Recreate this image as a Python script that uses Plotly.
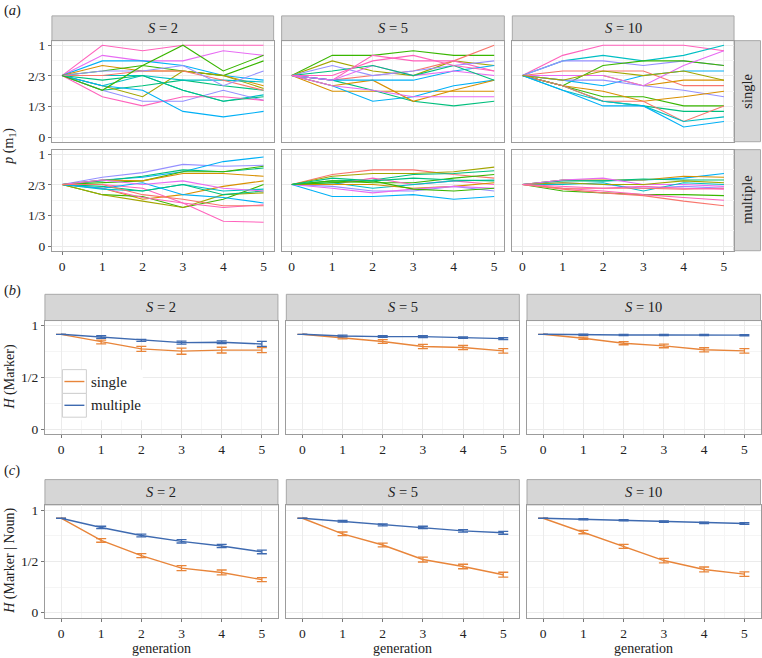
import plotly.graph_objects as go

W, H = 762, 658
FONT = "Liberation Serif, Times New Roman, Tinos, DejaVu Serif, serif"

generations = [0, 1, 2, 3, 4, 5]
strip_labels = ["<i>S</i> = 2", "<i>S</i> = 5", "<i>S</i> = 10"]
row_labels = ["single", "multiple"]
y_ticks_a = [0, 1/3, 2/3, 1]
y_ticktext_a = ["0", "1/3", "2/3", "1"]
y_ticks_bc = [0, 0.5, 1]
y_ticktext_bc = ["0", "1/2", "1"]

# ---------- panel (a): p(m1) per chain ----------
a_single_S2 = [
    [0.67, 1.00, 0.94, 1.00, 1.00, 1.00],
    [0.67, 0.89, 0.83, 0.83, 0.94, 0.89],
    [0.67, 0.83, 0.83, 0.78, 0.67, 0.62],
    [0.67, 0.78, 0.72, 0.72, 0.67, 0.56],
    [0.67, 0.72, 0.78, 0.72, 0.67, 0.83],
    [0.67, 0.51, 0.56, 0.62, 0.56, 0.51],
    [0.67, 0.56, 0.44, 0.72, 0.67, 0.53],
    [0.67, 0.56, 0.67, 0.51, 0.39, 0.46],
    [0.67, 0.67, 0.67, 0.62, 0.62, 0.60],
    [0.67, 0.51, 0.39, 0.39, 0.51, 0.40],
    [0.67, 0.44, 0.34, 0.44, 0.44, 0.40],
    [0.67, 0.56, 0.51, 0.28, 0.22, 0.28],
    [0.67, 0.62, 0.67, 0.51, 0.39, 0.44],
    [0.67, 0.67, 0.72, 0.72, 0.62, 0.51],
    [0.67, 0.72, 0.72, 0.78, 0.56, 0.72],
    [0.67, 0.51, 0.78, 1.00, 0.72, 0.89],
]
a_single_S2_col = [9, 8, 6, 1, 3, 4, 2, 5, 5, 7, 9, 6, 4, 0, 7, 3]

a_single_S5 = [
    [0.67, 0.89, 0.89, 0.94, 0.89, 0.89],
    [0.67, 0.83, 0.72, 0.67, 0.83, 0.78],
    [0.67, 0.50, 0.50, 0.50, 0.50, 0.50],
    [0.67, 0.62, 0.67, 0.72, 0.83, 1.00],
    [0.67, 0.62, 0.89, 0.83, 0.83, 0.72],
    [0.67, 0.56, 0.39, 0.44, 0.56, 0.62],
    [0.67, 0.62, 0.51, 0.39, 0.34, 0.39],
    [0.67, 0.56, 0.62, 0.39, 0.51, 0.62],
    [0.67, 0.78, 0.67, 0.72, 0.78, 0.83],
    [0.67, 0.62, 0.62, 0.62, 0.72, 0.78],
    [0.67, 0.62, 0.78, 0.67, 0.72, 0.67],
    [0.67, 0.72, 0.78, 0.67, 0.78, 0.62],
    [0.67, 0.56, 0.51, 0.44, 0.44, 0.44],
    [0.67, 0.67, 0.83, 0.89, 0.78, 0.72],
]
a_single_S5_col = [3, 2, 1, 0, 9, 6, 4, 1, 7, 6, 8, 4, 8, 9]

a_single_S10 = [
    [0.67, 0.89, 1.00, 1.00, 1.00, 0.94],
    [0.67, 0.83, 0.89, 0.83, 0.89, 1.00],
    [0.67, 0.83, 0.83, 0.78, 0.83, 0.78],
    [0.67, 0.56, 0.78, 0.83, 0.83, 0.78],
    [0.67, 0.72, 0.72, 0.72, 0.56, 0.56],
    [0.67, 0.67, 0.67, 0.56, 0.62, 0.62],
    [0.67, 0.62, 0.56, 0.67, 0.72, 0.72],
    [0.67, 0.62, 0.62, 0.56, 0.51, 0.44],
    [0.67, 0.56, 0.44, 0.44, 0.34, 0.34],
    [0.67, 0.56, 0.50, 0.39, 0.44, 0.50],
    [0.67, 0.56, 0.39, 0.34, 0.28, 0.28],
    [0.67, 0.56, 0.39, 0.39, 0.17, 0.34],
    [0.67, 0.51, 0.39, 0.34, 0.17, 0.22],
    [0.67, 0.51, 0.34, 0.34, 0.11, 0.17],
    [0.67, 0.67, 0.67, 0.56, 0.78, 0.94],
    [0.67, 0.62, 0.72, 0.67, 0.72, 0.62],
]
a_single_S10_col = [9, 5, 7, 3, 0, 1, 6, 7, 3, 1, 4, 0, 5, 6, 8, 2]

a_multiple_S2 = [
    [0.67, 0.75, 0.80, 0.89, 0.87, 0.88],
    [0.67, 0.72, 0.75, 0.81, 0.92, 0.97],
    [0.67, 0.71, 0.76, 0.83, 0.81, 0.85],
    [0.67, 0.69, 0.71, 0.81, 0.81, 0.87],
    [0.67, 0.72, 0.71, 0.79, 0.79, 0.76],
    [0.67, 0.63, 0.51, 0.56, 0.65, 0.71],
    [0.67, 0.56, 0.54, 0.42, 0.51, 0.67],
    [0.67, 0.56, 0.49, 0.42, 0.56, 0.58],
    [0.67, 0.67, 0.63, 0.47, 0.27, 0.26],
    [0.67, 0.63, 0.53, 0.47, 0.42, 0.45],
    [0.67, 0.62, 0.60, 0.67, 0.60, 0.62],
    [0.67, 0.65, 0.60, 0.67, 0.56, 0.60],
    [0.67, 0.63, 0.69, 0.56, 0.53, 0.47],
    [0.67, 0.72, 0.67, 0.71, 0.63, 0.60],
    [0.67, 0.67, 0.56, 0.51, 0.44, 0.44],
]
a_multiple_S2_col = [7, 6, 4, 3, 1, 1, 3, 2, 9, 9, 5, 4, 6, 8, 0]

a_multiple_S5 = [
    [0.67, 0.78, 0.83, 0.83, 0.78, 0.74],
    [0.67, 0.76, 0.79, 0.79, 0.81, 0.86],
    [0.67, 0.71, 0.72, 0.78, 0.79, 0.82],
    [0.67, 0.71, 0.69, 0.69, 0.74, 0.78],
    [0.67, 0.54, 0.54, 0.56, 0.51, 0.54],
    [0.67, 0.65, 0.60, 0.60, 0.65, 0.60],
    [0.67, 0.67, 0.74, 0.67, 0.71, 0.67],
    [0.67, 0.69, 0.63, 0.67, 0.71, 0.72],
    [0.67, 0.67, 0.67, 0.63, 0.65, 0.69],
    [0.67, 0.63, 0.58, 0.62, 0.65, 0.63],
    [0.67, 0.69, 0.71, 0.62, 0.60, 0.63],
    [0.67, 0.74, 0.71, 0.74, 0.72, 0.71],
]
a_multiple_S5_col = [0, 2, 4, 3, 6, 7, 9, 5, 1, 8, 3, 4]

a_multiple_S10 = [
    [0.67, 0.72, 0.71, 0.72, 0.74, 0.79],
    [0.67, 0.72, 0.72, 0.72, 0.76, 0.75],
    [0.67, 0.71, 0.71, 0.73, 0.72, 0.72],
    [0.67, 0.60, 0.58, 0.56, 0.56, 0.55],
    [0.67, 0.63, 0.60, 0.56, 0.53, 0.50],
    [0.67, 0.62, 0.58, 0.55, 0.49, 0.44],
    [0.67, 0.69, 0.67, 0.63, 0.65, 0.63],
    [0.67, 0.72, 0.74, 0.67, 0.67, 0.65],
    [0.67, 0.67, 0.69, 0.60, 0.69, 0.67],
    [0.67, 0.69, 0.67, 0.67, 0.71, 0.69],
    [0.67, 0.63, 0.63, 0.63, 0.62, 0.63],
    [0.67, 0.65, 0.63, 0.65, 0.63, 0.62],
]
a_multiple_S10_col = [6, 1, 4, 3, 9, 0, 7, 8, 5, 2, 0, 9]

# ---------- panel (b): H(Marker) ----------
b_single = {
    "S2": [0.917, 0.843, 0.776, 0.754, 0.764, 0.764],
    "S5": [0.917, 0.885, 0.847, 0.799, 0.789, 0.757],
    "S10": [0.917, 0.879, 0.831, 0.805, 0.767, 0.757],
}
b_single_err = {
    "S2": [None, 0.018, 0.024, 0.030, 0.028, 0.025],
    "S5": [None, 0.012, 0.018, 0.020, 0.020, 0.022],
    "S10": [None, 0.010, 0.015, 0.018, 0.020, 0.022],
}
b_multiple = {
    "S2": [0.917, 0.891, 0.859, 0.837, 0.840, 0.824],
    "S5": [0.917, 0.901, 0.895, 0.895, 0.885, 0.875],
    "S10": [0.917, 0.912, 0.911, 0.911, 0.910, 0.909],
}
b_multiple_err = {
    "S2": [None, 0.012, 0.010, 0.014, 0.014, 0.024],
    "S5": [None, 0.008, 0.008, 0.009, 0.008, 0.009],
    "S10": [None, 0.006, 0.006, 0.006, 0.006, 0.006],
}

# ---------- panel (c): H(Marker | Noun) ----------
c_single = {
    "S2": [0.920, 0.704, 0.556, 0.434, 0.392, 0.322],
    "S5": [0.920, 0.768, 0.659, 0.518, 0.450, 0.370],
    "S10": [0.920, 0.785, 0.646, 0.508, 0.421, 0.376],
}
c_single_err = {
    "S2": [None, 0.018, 0.020, 0.024, 0.024, 0.020],
    "S5": [None, 0.018, 0.018, 0.024, 0.022, 0.024],
    "S10": [None, 0.016, 0.020, 0.022, 0.024, 0.022],
}
c_multiple = {
    "S2": [0.920, 0.830, 0.752, 0.695, 0.650, 0.592],
    "S5": [0.920, 0.891, 0.855, 0.830, 0.797, 0.778],
    "S10": [0.920, 0.910, 0.900, 0.887, 0.875, 0.868],
}
c_multiple_err = {
    "S2": [None, 0.012, 0.014, 0.016, 0.016, 0.018],
    "S5": [None, 0.008, 0.010, 0.012, 0.012, 0.014],
    "S10": [None, 0.006, 0.006, 0.006, 0.008, 0.008],
}

# ---------- styles ----------
hue10 = ["#F8766D", "#D89000", "#A3A500", "#39B600", "#00BF7D",
         "#00BFC4", "#00B0F6", "#9590FF", "#E76BF3", "#FF62BC"]
COL_SINGLE = "#E8853A"
COL_MULTI = "#3E6AB0"
GRID = "#EBEBEB"
MINOR = "#F5F5F5"
BORDER = "#9C9C9C"
STRIP_FILL = "#D6D6D6"
STRIP_LINE = "#A8A8A8"
TXT = "#222222"


def xd(a, b):
    return [a / W, b / W]


def yd(top, bottom):
    return [1 - bottom / H, 1 - top / H]


fig = go.Figure()
layout = {}
shapes = []
annotations = []
idx = [0]


def add_axes(xdom, ydom, xrange, yrange, show_x, show_y, ytickvals, yticktext, yminor):
    idx[0] += 1
    n = idx[0]
    xname = "xaxis" if n == 1 else f"xaxis{n}"
    yname = "yaxis" if n == 1 else f"yaxis{n}"
    xref = "x" if n == 1 else f"x{n}"
    yref = "y" if n == 1 else f"y{n}"
    common = dict(showline=True, mirror=True, linecolor=BORDER, linewidth=1,
                  gridcolor=GRID, gridwidth=1, zeroline=False,
                  tickfont=dict(family=FONT, size=13.5, color=TXT),
                  tickcolor="#777777", ticklen=3, fixedrange=True)
    layout[xname] = dict(domain=xdom, range=xrange, anchor=yref,
                         tickvals=generations, ticktext=[str(g) for g in generations],
                         showticklabels=show_x, ticks="outside" if show_x else "",
                         minor=dict(showgrid=True, gridcolor=MINOR,
                                    tickvals=[g + 0.5 for g in generations[:-1]]),
                         **common)
    layout[yname] = dict(domain=ydom, range=yrange, anchor=xref,
                         tickvals=ytickvals, ticktext=yticktext,
                         showticklabels=show_y, ticks="outside" if show_y else "",
                         minor=dict(showgrid=True, gridcolor=MINOR, tickvals=yminor),
                         **common)
    return xref, yref


def strip_top(x0, x1, y0, y1, text):
    shapes.append(dict(type="rect", xref="paper", yref="paper",
                       x0=x0 / W, x1=x1 / W, y0=1 - y1 / H, y1=1 - y0 / H,
                       fillcolor=STRIP_FILL, line=dict(color=STRIP_LINE, width=1), layer="below"))
    annotations.append(dict(xref="paper", yref="paper", x=(x0 + x1) / 2 / W,
                            y=1 - (y0 + y1) / 2 / H, text=text, showarrow=False,
                            xanchor="center", yanchor="middle",
                            font=dict(family=FONT, size=14.5, color=TXT)))


# ---------- layout of panel (a) ----------
a_x = [(52, 274), (282, 505), (513, 735)]
a_rows = [(38, 140), (148, 250)]
a_data = [
    [(a_single_S2, a_single_S2_col), (a_single_S5, a_single_S5_col), (a_single_S10, a_single_S10_col)],
    [(a_multiple_S2, a_multiple_S2_col), (a_multiple_S5, a_multiple_S5_col), (a_multiple_S10, a_multiple_S10_col)],
]
for r, (top, bot) in enumerate(a_rows):
    for c, (x0, x1) in enumerate(a_x):
        xr, yr = add_axes(xd(x0, x1), yd(top, bot), [-0.25, 5.25], [-0.05, 1.05],
                          show_x=(r == 1), show_y=(c == 0),
                          ytickvals=y_ticks_a, yticktext=y_ticktext_a,
                          yminor=[1/6, 1/2, 5/6])
        lines, cols = a_data[r][c]
        for vals, ci in zip(lines, cols):
            fig.add_trace(go.Scatter(x=generations, y=vals, mode="lines",
                                     line=dict(color=hue10[ci], width=1.1),
                                     xaxis=xr, yaxis=yr, showlegend=False,
                                     hoverinfo="skip"))
    # right strip
    shapes.append(dict(type="rect", xref="paper", yref="paper",
                       x0=735 / W, x1=761.5 / W, y0=1 - bot / H, y1=1 - top / H,
                       fillcolor=STRIP_FILL, line=dict(color=STRIP_LINE, width=1), layer="below"))
    annotations.append(dict(xref="paper", yref="paper", x=748.5 / W, y=1 - (top + bot) / 2 / H,
                            text=row_labels[r], textangle=-90, showarrow=False,
                            xanchor="center", yanchor="middle",
                            font=dict(family=FONT, size=14.5, color=TXT)))
for c, (x0, x1) in enumerate(a_x):
    strip_top(x0, x1, 13, 38, strip_labels[c])

# ---------- panels (b) and (c) ----------
bc_x = [(45, 278.3), (286.7, 520), (527.7, 761.5)]
keys = ["S2", "S5", "S10"]
bc_specs = [
    ((320.5, 435.2), (294, 320.5), b_single, b_single_err, b_multiple, b_multiple_err),
    ((506.5, 620.5), (481, 506.5), c_single, c_single_err, c_multiple, c_multiple_err),
]
for p, (ydm, strip_y, s_vals, s_err, m_vals, m_err) in enumerate(bc_specs):
    for c, (x0, x1) in enumerate(bc_x):
        xr, yr = add_axes(xd(x0, x1), yd(*ydm), [-0.4, 5.4], [-0.05, 1.05],
                          show_x=True, show_y=(c == 0),
                          ytickvals=y_ticks_bc, yticktext=y_ticktext_bc,
                          yminor=[0.25, 0.75])
        k = keys[c]
        for vals, err, col in ((s_vals[k], s_err[k], COL_SINGLE), (m_vals[k], m_err[k], COL_MULTI)):
            fig.add_trace(go.Scatter(
                x=generations, y=vals, mode="lines",
                line=dict(color=col, width=1.4),
                error_y=dict(type="data", array=err, visible=True, color=col,
                             thickness=1.3, width=5),
                xaxis=xr, yaxis=yr, showlegend=False, hoverinfo="skip"))
        strip_top(x0, x1, strip_y[0], strip_y[1], strip_labels[c])

# x titles under (c)
for (x0, x1) in bc_x:
    annotations.append(dict(xref="paper", yref="paper", x=(x0 + x1) / 2 / W, y=1 - 651 / H,
                            text="generation", showarrow=False, xanchor="center",
                            yanchor="middle", font=dict(family=FONT, size=14, color=TXT)))

# panel letters
for txt, yy in (("(<i>a</i>)", 8), ("(<i>b</i>)", 290), ("(<i>c</i>)", 472)):
    annotations.append(dict(xref="paper", yref="paper", x=2 / W, y=1 - yy / H, text=txt,
                            showarrow=False, xanchor="left", yanchor="middle",
                            font=dict(family=FONT, size=14.5, color=TXT)))

# y titles
for txt, yy in (("<i>p</i> (m<sub>1</sub>)", 144), ("<i>H</i> (Marker)", 377),
                ("<i>H</i> (Marker | Noun)", 563)):
    annotations.append(dict(xref="paper", yref="paper", x=10 / W, y=1 - yy / H, text=txt,
                            textangle=-90, showarrow=False, xanchor="center", yanchor="middle",
                            font=dict(family=FONT, size=14, color=TXT)))

# legend in panel (b), S = 2
shapes.append(dict(type="rect", xref="paper", yref="paper", x0=62 / W, x1=143 / W,
                   y0=1 - 421 / H, y1=1 - 370 / H, fillcolor="white",
                   line=dict(width=0), layer="above"))
for (ky0, ky1, col, lab) in ((370, 394, COL_SINGLE, "single"), (394, 418, COL_MULTI, "multiple")):
    shapes.append(dict(type="rect", xref="paper", yref="paper", x0=62.5 / W, x1=86.5 / W,
                       y0=1 - ky1 / H, y1=1 - ky0 / H, fillcolor="white",
                       line=dict(color="#CFCFCF", width=1), layer="above"))
    ym = (ky0 + ky1) / 2
    shapes.append(dict(type="line", xref="paper", yref="paper", x0=64.5 / W, x1=84.5 / W,
                       y0=1 - ym / H, y1=1 - ym / H, line=dict(color=col, width=1.4),
                       layer="above"))
    annotations.append(dict(xref="paper", yref="paper", x=89 / W, y=1 - ym / H, text=lab,
                            showarrow=False, xanchor="left", yanchor="middle",
                            font=dict(family=FONT, size=15, color=TXT)))

fig.update_layout(
    width=W, height=H, margin=dict(l=0, r=0, t=0, b=0),
    paper_bgcolor="white", plot_bgcolor="white",
    font=dict(family=FONT, size=14, color=TXT),
    shapes=shapes, annotations=annotations, showlegend=False,
    **layout,
)
fig.write_html("out.html", config={"displayModeBar": False},
               post_script="document.body.style.margin='0';document.body.style.overflow='hidden';")
